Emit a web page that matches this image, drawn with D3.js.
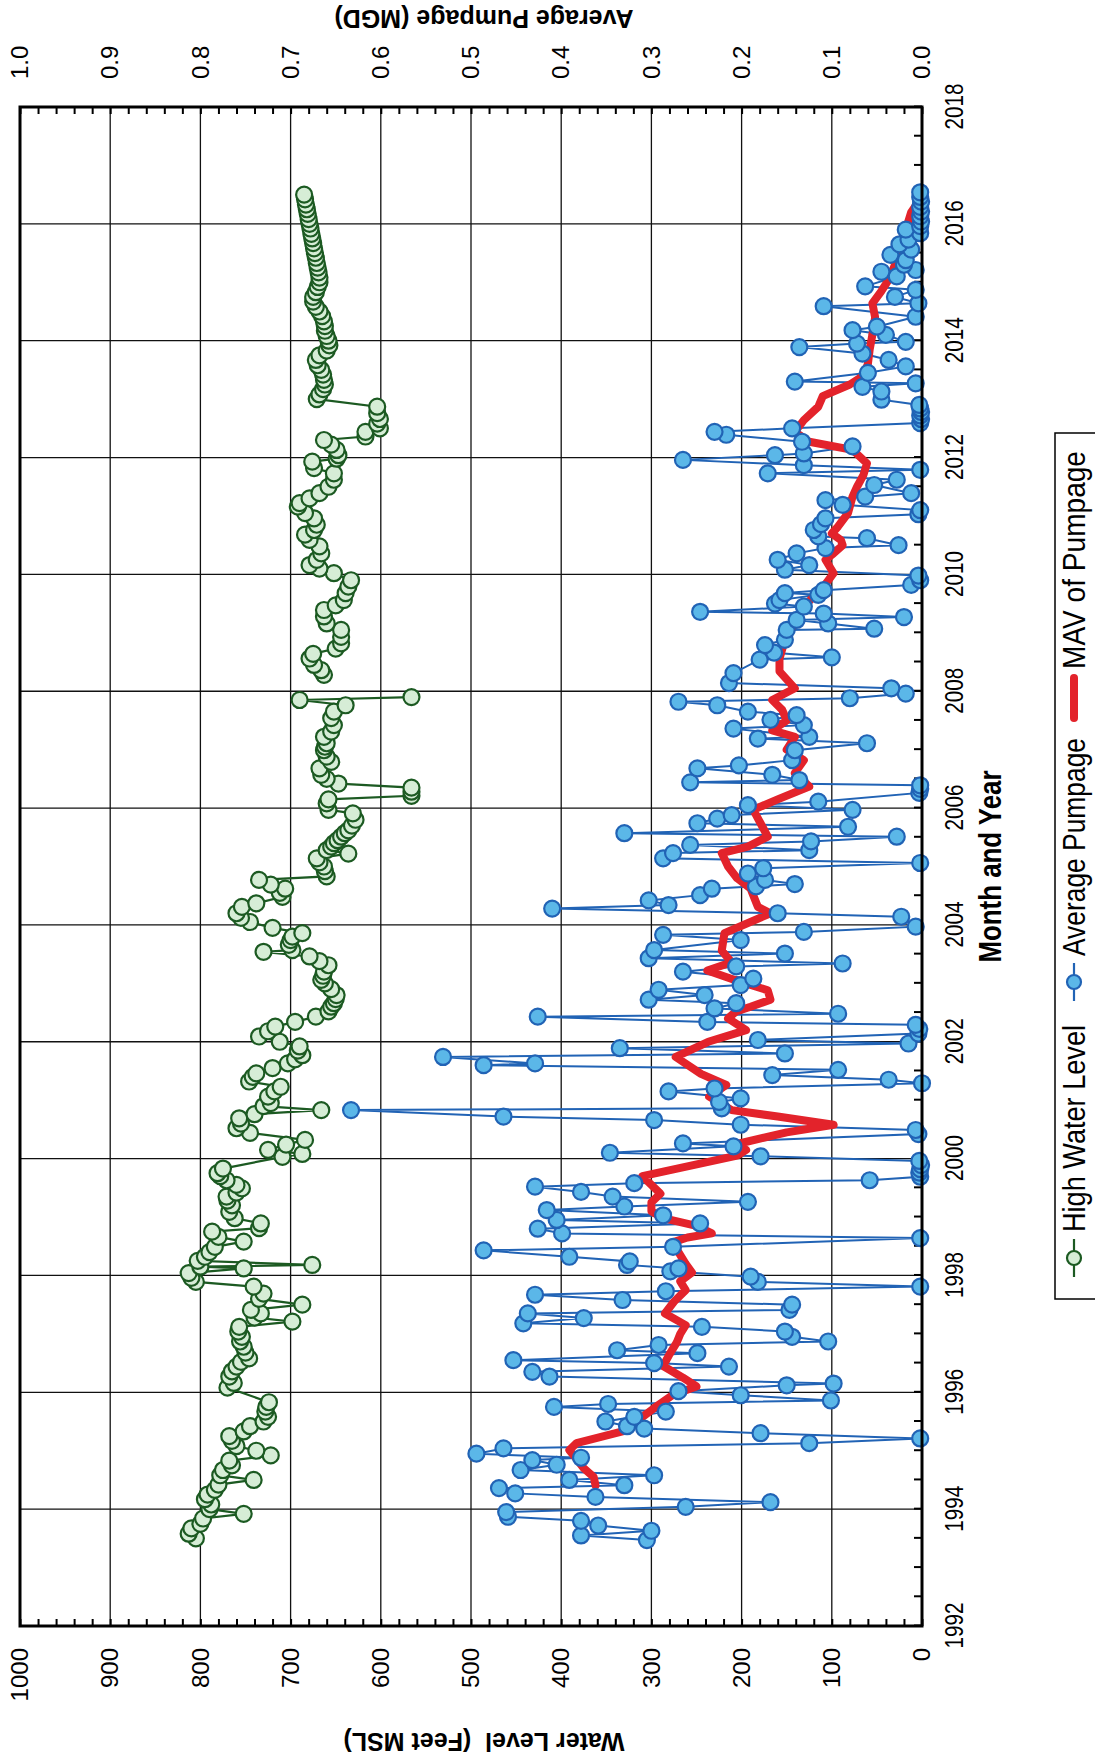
<!DOCTYPE html>
<html>
<head>
<meta charset="utf-8">
<script src="https://cdn.jsdelivr.net/npm/d3@7.9.0/dist/d3.min.js"></script>
<style>
  body { margin: 0; background: #fff; }
  svg { display: block; }
  text { font-family: "Liberation Sans", Arial, sans-serif; fill: #000; }
</style>
</head>
<body>
<svg id="chart" width="1095" height="1764"></svg>
<script>
// high water level, feet MSL  [decimal year, value]
const waterLevel = [
  [1993.50,805],[1993.58,813],[1993.67,810],[1993.75,800],[1993.84,797],[1993.92,752],
  [1994.00,790],[1994.08,788],[1994.17,795],[1994.25,792],[1994.33,784],[1994.42,780],
  [1994.50,741],[1994.58,778],[1994.67,775],[1994.75,765],[1994.83,768],[1994.92,722],
  [1995.00,738],[1995.08,760],[1995.17,765],[1995.25,768],[1995.33,752],[1995.42,745],
  [1995.50,730],[1995.58,725],[1995.67,728],[1995.75,727],[1995.83,724],
  [1996.08,770],[1996.16,763],[1996.27,768],[1996.36,765],[1996.44,760],[1996.52,755],
  [1996.58,746],[1996.68,750],[1996.78,752],[1996.87,756],[1996.95,754],[1997.04,758],
  [1997.12,757],[1997.21,698],[1997.28,740],[1997.35,733],[1997.41,744],[1997.50,687],
  [1997.60,735],[1997.69,730],[1997.81,741],[1997.89,805],[1997.96,810],[1998.04,813],
  [1998.12,752],[1998.15,800],[1998.18,676],[1998.25,803],[1998.32,795],[1998.40,790],
  [1998.49,784],[1998.58,752],[1998.66,780],[1998.75,787],[1998.81,735],[1998.89,733],
  [1998.98,762],[1999.09,768],[1999.20,765],[1999.28,770],[1999.35,771],[1999.42,760],
  [1999.49,754],[1999.55,760],[1999.63,771],[1999.70,778],[1999.75,781],[1999.83,775],
  [2000.03,709],[2000.08,687],[2000.15,725],[2000.24,705],[2000.32,684],[2000.44,745],
  [2000.52,760],[2000.60,755],[2000.69,757],[2000.76,740],[2000.83,666],[2000.90,730],
  [2000.95,722],[2001.06,725],[2001.15,718],[2001.23,711],[2001.32,746],[2001.40,742],
  [2001.46,738],[2001.55,720],[2001.63,703],[2001.70,695],[2001.77,687],[2001.85,692],
  [2001.92,690],[2002.00,712],[2002.09,735],[2002.18,725],[2002.26,717],[2002.34,695],
  [2002.43,672],[2002.52,658],[2002.60,655],[2002.66,652],[2002.73,650],[2002.80,649],
  [2002.90,655],[2003.00,662],[2003.06,666],[2003.13,664],[2003.20,663],[2003.31,658],
  [2003.38,668],[2003.46,679],[2003.54,730],[2003.57,698],[2003.66,702],[2003.74,700],
  [2003.80,698],[2003.86,687],[2003.95,720],[2004.05,745],[2004.12,755],[2004.20,760],
  [2004.31,754],[2004.37,738],[2004.48,709],[2004.55,712],[2004.62,706],[2004.69,722],
  [2004.77,735],[2004.83,660],[2004.92,662],[2005.00,663],[2005.07,668],[2005.14,671],
  [2005.22,636],[2005.28,660],[2005.34,655],[2005.40,652],[2005.45,648],[2005.51,644],
  [2005.57,640],[2005.62,636],[2005.70,632],[2005.80,628],[2005.91,631],[2005.97,658],
  [2006.08,660],[2006.15,658],[2006.21,566],[2006.28,566],[2006.35,566],[2006.42,647],
  [2006.50,660],[2006.57,666],[2006.68,668],[2006.79,655],[2006.88,660],[2006.99,663],
  [2007.05,662],[2007.11,660],[2007.22,663],[2007.31,655],[2007.42,652],[2007.54,655],
  [2007.65,652],[2007.76,639],[2007.85,690],[2007.90,566],
  [2008.28,663],[2008.36,666],[2008.45,674],[2008.56,679],[2008.64,675],[2008.73,650],
  [2008.82,644],[2008.93,644],[2009.05,644],[2009.16,660],[2009.28,663],[2009.39,663],
  [2009.47,650],[2009.56,641],[2009.68,639],[2009.79,636],[2009.90,633],[2010.02,652],
  [2010.10,668],[2010.16,679],[2010.25,671],[2010.36,666],[2010.48,668],[2010.59,679],
  [2010.68,684],[2010.76,674],[2010.85,671],[2010.96,674],[2011.05,684],[2011.16,692],
  [2011.22,690],[2011.30,679],[2011.39,668],[2011.50,658],[2011.62,652],[2011.73,652],
  [2011.82,674],[2011.93,676],[2011.98,649],[2012.04,647],[2012.13,649],[2012.22,655],
  [2012.30,663],[2012.36,617],[2012.44,617],[2012.50,601],[2012.58,604],[2012.66,601],
  [2012.76,604],[2012.87,604],
  [2013.00,671],[2013.08,668],[2013.17,664],[2013.25,662],[2013.33,663],[2013.42,664],
  [2013.50,666],[2013.58,670],[2013.67,672],[2013.75,668],[2013.83,660],[2013.92,657],
  [2014.00,658],[2014.08,660],[2014.17,662],[2014.25,662],[2014.33,663],[2014.42,665],
  [2014.50,668],[2014.58,672],[2014.67,675],[2014.75,675],[2014.83,672],[2014.92,670],
  [2015.00,668],[2015.08,668],[2015.17,669],[2015.25,670],[2015.33,671],[2015.42,672],
  [2015.50,673],[2015.58,674],[2015.67,675],[2015.75,676],[2015.83,677],[2015.92,678],
  [2016.00,679],[2016.08,680],[2016.17,681],[2016.25,682],[2016.33,683],[2016.42,684],
  [2016.50,685]
];

// average pumpage, MGD  [decimal year, value]
const pumpage = [
  [1993.47,0.305],[1993.55,0.378],[1993.63,0.300],[1993.72,0.359],[1993.80,0.378],[1993.87,0.459],
  [1993.95,0.461],[1994.04,0.262],[1994.12,0.168],[1994.21,0.362],[1994.27,0.451],[1994.36,0.469],
  [1994.41,0.330],[1994.50,0.391],[1994.58,0.297],[1994.67,0.445],[1994.76,0.405],[1994.84,0.432],
  [1994.88,0.378],[1994.95,0.494],[1995.04,0.464],[1995.13,0.125],[1995.21,0.002],[1995.30,0.179],
  [1995.38,0.308],[1995.42,0.327],[1995.50,0.351],[1995.58,0.319],[1995.67,0.284],[1995.75,0.408],
  [1995.80,0.348],[1995.86,0.101],[1995.95,0.201],[1996.02,0.270],[1996.12,0.150],[1996.15,0.098],
  [1996.27,0.413],[1996.35,0.432],[1996.44,0.214],[1996.50,0.297],[1996.55,0.453],[1996.67,0.249],
  [1996.72,0.338],[1996.81,0.292],[1996.87,0.104],[1996.95,0.144],[1997.04,0.152],[1997.12,0.244],
  [1997.18,0.442],[1997.27,0.375],[1997.35,0.437],[1997.41,0.147],[1997.50,0.144],[1997.58,0.332],
  [1997.67,0.429],[1997.73,0.284],[1997.81,0.002],[1997.89,0.182],[1997.98,0.190],[1998.07,0.279],
  [1998.12,0.270],[1998.18,0.327],[1998.24,0.324],[1998.32,0.391],[1998.43,0.486],[1998.49,0.276],
  [1998.64,0.002],[1998.72,0.399],[1998.80,0.426],[1998.89,0.246],[1998.95,0.405],[1999.03,0.287],
  [1999.12,0.416],[1999.18,0.330],[1999.26,0.193],[1999.35,0.343],[1999.43,0.378],[1999.52,0.429],
  [1999.58,0.319],[1999.63,0.058],[1999.69,0.002],[1999.76,0.003],[1999.82,0.002],[1999.89,0.001],
  [1999.96,0.003],[2000.04,0.179],[2000.10,0.346],[2000.21,0.209],[2000.26,0.265],[2000.42,0.004],
  [2000.49,0.007],[2000.58,0.201],[2000.66,0.297],[2000.72,0.464],[2000.83,0.633],[2000.86,0.222],
  [2000.97,0.225],[2001.03,0.201],[2001.15,0.281],[2001.20,0.230],[2001.29,0.000],[2001.35,0.037],
  [2001.43,0.166],[2001.52,0.093],[2001.60,0.486],[2001.63,0.429],[2001.74,0.531],[2001.80,0.152],
  [2001.89,0.335],[2001.97,0.015],[2002.03,0.182],[2002.14,0.004],[2002.22,0.003],[2002.29,0.007],
  [2002.34,0.238],[2002.43,0.426],[2002.48,0.093],[2002.57,0.230],[2002.66,0.206],[2002.72,0.303],
  [2002.80,0.241],[2002.89,0.292],[2002.97,0.201],[2003.08,0.187],[2003.20,0.265],[2003.29,0.206],
  [2003.34,0.088],[2003.43,0.303],[2003.51,0.152],[2003.57,0.297],[2003.74,0.201],[2003.83,0.287],
  [2003.88,0.131],[2003.97,0.007],[2004.14,0.023],[2004.20,0.160],[2004.28,0.410],[2004.34,0.281],
  [2004.42,0.303],[2004.51,0.246],[2004.62,0.233],[2004.66,0.184],[2004.70,0.141],[2004.77,0.174],
  [2004.88,0.193],[2004.97,0.176],[2005.06,0.002],[2005.14,0.287],[2005.23,0.276],[2005.28,0.125],
  [2005.37,0.257],[2005.43,0.123],[2005.51,0.028],[2005.57,0.330],[2005.68,0.082],[2005.74,0.249],
  [2005.82,0.227],[2005.88,0.211],[2005.97,0.077],[2006.05,0.193],[2006.11,0.115],[2006.26,0.003],
  [2006.33,0.002],[2006.39,0.002],[2006.44,0.257],[2006.48,0.136],[2006.57,0.166],[2006.68,0.249],
  [2006.73,0.203],[2006.82,0.144],[2006.99,0.141],[2007.11,0.061],[2007.19,0.182],[2007.22,0.125],
  [2007.36,0.209],[2007.42,0.131],[2007.51,0.168],[2007.59,0.139],[2007.65,0.193],[2007.76,0.227],
  [2007.82,0.270],[2007.88,0.080],[2007.96,0.018],[2008.05,0.034],[2008.14,0.214],[2008.31,0.209],
  [2008.54,0.180],[2008.58,0.100],[2008.66,0.164],[2008.79,0.174],[2008.88,0.152],[2009.05,0.150],
  [2009.07,0.053],[2009.16,0.104],[2009.22,0.139],[2009.27,0.020],[2009.33,0.109],[2009.36,0.246],
  [2009.45,0.131],[2009.50,0.163],[2009.56,0.158],[2009.65,0.115],[2009.68,0.152],[2009.73,0.109],
  [2009.82,0.012],[2009.90,0.002],[2009.98,0.004],[2010.08,0.152],[2010.16,0.125],[2010.25,0.160],
  [2010.36,0.139],[2010.45,0.107],[2010.50,0.026],[2010.62,0.061],[2010.65,0.115],[2010.76,0.120],
  [2010.86,0.112],[2010.96,0.107],[2011.03,0.004],[2011.10,0.002],[2011.19,0.088],[2011.27,0.107],
  [2011.33,0.063],[2011.39,0.012],[2011.53,0.053],[2011.62,0.028],[2011.73,0.171],[2011.79,0.002],
  [2011.87,0.131],[2011.96,0.265],[2012.04,0.163],[2012.07,0.131],[2012.19,0.077],[2012.27,0.133],
  [2012.39,0.217],[2012.44,0.230],[2012.50,0.144],[2012.59,0.002],[2012.66,0.001],[2012.72,0.002],
  [2012.78,0.001],[2012.84,0.002],[2012.90,0.003],[2012.99,0.045],[2013.13,0.045],[2013.21,0.066],
  [2013.27,0.007],[2013.30,0.141],[2013.45,0.060],[2013.56,0.018],[2013.67,0.037],[2013.78,0.066],
  [2013.89,0.136],[2013.95,0.072],[2013.98,0.018],[2014.10,0.040],[2014.18,0.077],[2014.24,0.050],
  [2014.41,0.007],[2014.59,0.109],[2014.64,0.004],[2014.75,0.030],[2014.87,0.007],[2014.93,0.063],
  [2015.10,0.028],[2015.18,0.045],[2015.21,0.007],[2015.30,0.020],[2015.38,0.018],[2015.47,0.035],
  [2015.56,0.012],[2015.65,0.025],[2015.73,0.015],[2015.84,0.002],[2015.90,0.018],[2015.96,0.002],
  [2016.04,0.001],[2016.13,0.002],[2016.21,0.001],[2016.29,0.002],[2016.38,0.001],[2016.46,0.002],
  [2016.54,0.002]
];

// moving average of pumpage, MGD
const mav = [
  [1994.41,0.362],[1994.55,0.364],[1994.70,0.375],[1994.90,0.385],[1995.01,0.391],[1995.13,0.383],
  [1995.33,0.332],[1995.47,0.319],[1995.73,0.297],[1995.96,0.276],[1996.10,0.250],[1996.25,0.265],
  [1996.45,0.287],[1996.65,0.280],[1996.85,0.272],[1997.00,0.268],[1997.15,0.262],[1997.35,0.285],
  [1997.55,0.275],[1997.75,0.262],[1997.90,0.268],[1998.05,0.255],[1998.20,0.262],[1998.40,0.270],
  [1998.55,0.280],[1998.65,0.260],[1998.72,0.233],[1998.85,0.250],[1998.98,0.287],[1999.10,0.300],
  [1999.25,0.300],[1999.40,0.290],[1999.55,0.300],[1999.70,0.310],[2000.05,0.205],[2000.15,0.195],
  [2000.25,0.205],[2000.45,0.150],[2000.58,0.098],[2000.72,0.160],[2000.83,0.211],[2001.06,0.236],
  [2001.26,0.217],[2001.45,0.245],[2001.74,0.273],[2002.00,0.237],[2002.20,0.195],[2002.40,0.215],
  [2002.52,0.206],[2002.60,0.190],[2002.72,0.168],[2002.88,0.171],[2003.05,0.206],[2003.22,0.238],
  [2003.36,0.211],[2003.56,0.222],[2003.86,0.219],[2004.20,0.168],[2004.31,0.182],[2004.62,0.190],
  [2004.80,0.205],[2005.00,0.215],[2005.23,0.222],[2005.34,0.193],[2005.51,0.171],[2005.74,0.179],
  [2005.97,0.187],[2006.15,0.160],[2006.37,0.125],[2006.60,0.141],[2006.82,0.131],[2007.00,0.150],
  [2007.22,0.141],[2007.33,0.166],[2007.50,0.150],[2007.68,0.155],[2007.85,0.166],[2008.05,0.141],
  [2008.34,0.158],[2008.56,0.158],[2008.88,0.152],[2009.22,0.139],[2009.45,0.131],[2009.79,0.109],
  [2010.02,0.098],[2010.25,0.107],[2010.36,0.098],[2010.50,0.088],[2010.59,0.090],[2010.70,0.100],
  [2010.82,0.093],[2011.05,0.082],[2011.33,0.077],[2011.50,0.072],[2011.70,0.065],[2011.90,0.061],
  [2012.13,0.077],[2012.27,0.125],[2012.44,0.141],[2012.64,0.131],[2012.87,0.115],[2013.05,0.110],
  [2013.25,0.080],[2013.40,0.065],[2013.60,0.060],[2013.85,0.058],[2014.10,0.055],[2014.40,0.052],
  [2014.64,0.055],[2014.85,0.045],[2015.04,0.037],[2015.30,0.030],[2015.60,0.025],[2015.90,0.018],
  [2016.20,0.012],[2016.40,0.003]
];

const yearLabels = [1992, 1994, 1996, 1998, 2000, 2002, 2004, 2006, 2008, 2010, 2012, 2014, 2016, 2018];
const levelTicks = [0, 100, 200, 300, 400, 500, 600, 700, 800, 900, 1000];
const pumpTicks = [0, 0.1, 0.2, 0.3, 0.4, 0.5, 0.6, 0.7, 0.8, 0.9, 1.0];

// chart is laid out landscape, then turned a quarter turn counter-clockwise
const W = 1764;
const mLeft = 138, mRight = 1657, mTop = 20, mBottom = 922;

const svg = d3.select('#chart');
const g = svg.append('g').attr('transform', `translate(0,${W}) rotate(-90)`);

const x = d3.scaleLinear().domain([1992, 2018]).range([mLeft, mRight]);
const yL = d3.scaleLinear().domain([0, 1000]).range([mBottom, mTop]);
const yR = d3.scaleLinear().domain([0, 1]).range([mBottom, mTop]);

// condensed look: squeeze regular glyphs to the measured width
function squeeze(sel, len) {
  sel.attr('textLength', len).attr('lengthAdjust', 'spacingAndGlyphs');
}

// grid
g.append('g').selectAll('line').data(yearLabels.slice(1, -1)).join('line')
  .attr('x1', d => x(d)).attr('x2', d => x(d)).attr('y1', mTop).attr('y2', mBottom)
  .attr('stroke', '#111').attr('stroke-width', 1.3);
g.append('g').selectAll('line').data(levelTicks.slice(1, -1)).join('line')
  .attr('x1', mLeft).attr('x2', mRight).attr('y1', d => yL(d)).attr('y2', d => yL(d))
  .attr('stroke', '#111').attr('stroke-width', 1.3);

// minor ticks, pointing inward
function minor(sel) {
  sel.select('.domain').remove();
  sel.selectAll('.tick line').attr('stroke', '#000').attr('stroke-width', 2);
}
g.append('g').attr('transform', `translate(0,${mBottom})`)
  .call(d3.axisBottom(x).tickValues(d3.range(1992, 2018.01, 0.5)).tickSize(-8).tickFormat(''))
  .call(minor);
g.append('g').attr('transform', `translate(${mLeft},0)`)
  .call(d3.axisLeft(yL).tickValues(d3.range(0, 1000.1, 20)).tickSize(-7).tickFormat(''))
  .call(minor);
g.append('g').attr('transform', `translate(${mRight},0)`)
  .call(d3.axisRight(yR).tickValues(d3.range(0, 1.0001, 0.02)).tickSize(-7).tickFormat(''))
  .call(minor);

// labelled axes
const xAxis = g.append('g').attr('transform', `translate(0,${mBottom})`)
  .call(d3.axisBottom(x).tickValues(yearLabels).tickFormat(d3.format('d')).tickSize(0).tickPadding(23));
xAxis.select('.domain').remove();
xAxis.selectAll('text').attr('font-size', 25).call(squeeze, 46);

const yAxisL = g.append('g').attr('transform', `translate(${mLeft},0)`)
  .call(d3.axisLeft(yL).tickValues(levelTicks).tickFormat(d3.format('d')).tickSize(0).tickPadding(22));
yAxisL.select('.domain').remove();
yAxisL.selectAll('text').attr('font-size', 24);

const yAxisR = g.append('g').attr('transform', `translate(${mRight},0)`)
  .call(d3.axisRight(yR).tickValues(pumpTicks).tickFormat(d3.format('.1f')).tickSize(0).tickPadding(28));
yAxisR.select('.domain').remove();
yAxisR.selectAll('text').attr('font-size', 24);

[xAxis, yAxisL, yAxisR].forEach(a => a.attr('font-family', null).attr('font-size', null));
[xAxis, yAxisL, yAxisR].forEach(a => a.selectAll('text').attr('fill', '#000'));

// series
const greenStroke = '#1c5a22', greenFill = '#d6edd6';
const blueStroke = '#2163b5', blueFill = '#5bb7e8';
const red = '#e3232b';

// split the water level line where readings stop for a while
const wlSegments = [];
waterLevel.forEach((d, i) => {
  if (i === 0 || d[0] - waterLevel[i - 1][0] > 0.25) wlSegments.push([]);
  wlSegments[wlSegments.length - 1].push(d);
});

const lineL = d3.line().x(d => x(d[0])).y(d => yL(d[1]));
const lineR = d3.line().x(d => x(d[0])).y(d => yR(d[1]));

g.append('g').selectAll('path').data(wlSegments).join('path')
  .attr('d', lineL).attr('fill', 'none').attr('stroke', greenStroke).attr('stroke-width', 2.2);
g.append('g').selectAll('circle').data(waterLevel).join('circle')
  .attr('cx', d => x(d[0])).attr('cy', d => yL(d[1])).attr('r', 8)
  .attr('fill', greenFill).attr('stroke', greenStroke).attr('stroke-width', 2.2);

g.append('path').datum(pumpage)
  .attr('d', lineR).attr('fill', 'none').attr('stroke', blueStroke).attr('stroke-width', 2);
g.append('path').datum(mav)
  .attr('d', lineR).attr('fill', 'none').attr('stroke', red).attr('stroke-width', 8)
  .attr('stroke-linejoin', 'round').attr('stroke-linecap', 'round');
g.append('g').selectAll('circle').data(pumpage).join('circle')
  .attr('cx', d => x(d[0])).attr('cy', d => yR(d[1])).attr('r', 8)
  .attr('fill', blueFill).attr('stroke', blueStroke).attr('stroke-width', 2.2);

// frame
g.append('rect').attr('x', mLeft).attr('y', mTop).attr('width', mRight - mLeft).attr('height', mBottom - mTop)
  .attr('fill', 'none').attr('stroke', '#000').attr('stroke-width', 3);

// titles
const midV = 484;
g.append('text').attr('transform', `translate(22,${midV}) rotate(-90)`)
  .attr('text-anchor', 'middle').attr('dominant-baseline', 'central')
  .attr('font-weight', 'bold').attr('font-size', 25).style('white-space', 'pre')
  .text('Water Level  (Feet MSL)');
g.append('text').attr('transform', `translate(1745,${midV}) rotate(-90)`)
  .attr('text-anchor', 'middle').attr('dominant-baseline', 'central')
  .attr('font-weight', 'bold').attr('font-size', 25)
  .text('Average Pumpage (MGD)');
g.append('text').attr('x', (mLeft + mRight) / 2).attr('y', 990)
  .attr('text-anchor', 'middle').attr('dominant-baseline', 'central')
  .attr('font-weight', 'bold').attr('font-size', 31)
  .text('Month and Year').call(squeeze, 192);

// legend
const lv = 1074;
g.append('rect').attr('x', 465).attr('y', 1055).attr('width', 866).attr('height', 70)
  .attr('fill', 'none').attr('stroke', '#000').attr('stroke-width', 1.5);
const legend = [
  { label: 'High Water Level', u: 487, len: 207, kind: 'wl' },
  { label: 'Average Pumpage', u: 763, len: 218, kind: 'pump' },
  { label: 'MAV of Pumpage', u: 1044, len: 218, kind: 'mav' }
];
legend.forEach(item => {
  const lg = g.append('g');
  if (item.kind === 'mav') {
    lg.append('line').attr('x1', item.u + 2).attr('x2', item.u + 42).attr('y1', lv).attr('y2', lv)
      .attr('stroke', red).attr('stroke-width', 8).attr('stroke-linecap', 'round');
  } else {
    const s = item.kind === 'wl' ? greenStroke : blueStroke;
    const f = item.kind === 'wl' ? greenFill : blueFill;
    lg.append('line').attr('x1', item.u).attr('x2', item.u + 38).attr('y1', lv).attr('y2', lv)
      .attr('stroke', s).attr('stroke-width', 2.2);
    lg.append('circle').attr('cx', item.u + 19).attr('cy', lv).attr('r', 7)
      .attr('fill', f).attr('stroke', s).attr('stroke-width', 2.2);
  }
  lg.append('text')
    .attr('x', item.u + (item.kind === 'mav' ? 51 : 45)).attr('y', lv)
    .attr('dominant-baseline', 'central').attr('font-size', 31)
    .text(item.label).call(squeeze, item.len);
});
</script>
</body>
</html>
